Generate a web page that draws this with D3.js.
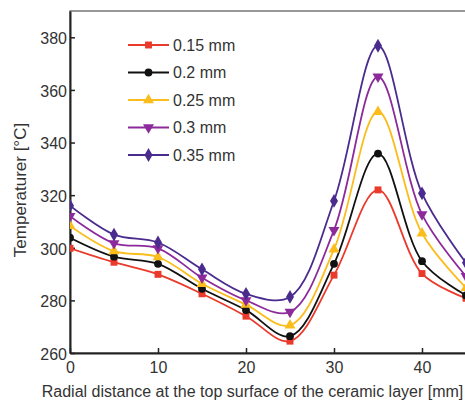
<!DOCTYPE html>
<html>
<head>
<meta charset="utf-8">
<script src="https://cdn.jsdelivr.net/npm/d3@7"></script>
<style>
  body { margin: 0; background: #fff; }
  text { font-family: "Liberation Sans", Arial, sans-serif; fill: #333; }
</style>
</head>
<body>
<div id="chart"></div>
<script>
// Data
const distances = [0, 5, 10, 15, 20, 25, 30, 35, 40, 45];
const seriesNames = ["0.15 mm", "0.2 mm", "0.25 mm", "0.3 mm", "0.35 mm"];
const t015 = [299.8, 294.5, 289.9, 282.5, 274.0, 264.5, 289.6, 322.0, 290.2, 280.8];
const t020 = [303.8, 296.6, 293.9, 284.4, 276.3, 266.4, 293.9, 335.8, 294.9, 281.9];
const t025 = [308.3, 298.7, 296.5, 286.3, 278.4, 270.5, 299.4, 351.7, 305.5, 284.8];
const t030 = [312.0, 301.7, 299.8, 288.6, 280.0, 275.6, 306.7, 365.0, 312.7, 289.2];
const t035 = [316.0, 305.0, 302.0, 291.8, 282.5, 281.3, 317.8, 376.8, 320.7, 294.3];
const xTicks = [0, 10, 20, 30, 40];
const yTicks = [260, 280, 300, 320, 340, 360, 380];

const allSeries = [t015, t020, t025, t030, t035];
const colors = ["#ea3a2c", "#111111", "#fbbd1c", "#8c2a9c", "#4a2b8e"];
const symbols = [d3.symbolSquare, d3.symbolCircle, d3.symbolTriangle, d3.symbolTriangle, d3.symbolDiamond];
const symSize = [48, 48, 52, 52, 55];
const symRot = [0, 0, 0, 180, 0];

const W = 465, H = 403;
const margin = { top: 11, right: -1, bottom: 50, left: 70 };
const width = W - margin.left - margin.right;
const height = H - margin.top - margin.bottom;

const svg = d3.select("#chart")
  .append("svg")
  .attr("width", W)
  .attr("height", H);

const g = svg.append("g")
  .attr("transform", `translate(${margin.left},${margin.top})`);

const x = d3.scaleLinear().domain([0, 45]).range([0, width]);
const y = d3.scaleLinear().domain([260, 390]).range([height, 0]);

g.append("clipPath").attr("id", "clip")
  .append("rect").attr("x", 0).attr("y", 0).attr("width", width).attr("height", height);

// Frame
g.append("rect")
  .attr("width", width)
  .attr("height", height)
  .attr("fill", "none")
  .attr("stroke", "#555")
  .attr("stroke-width", 1.2);

// Axes with inward ticks
const xAxis = g.append("g")
  .attr("transform", `translate(0,${height})`)
  .call(d3.axisBottom(x).tickValues(xTicks).tickSizeInner(-5).tickSizeOuter(0).tickPadding(9));
const yAxis = g.append("g")
  .call(d3.axisLeft(y).tickValues(yTicks).tickSizeInner(-5).tickSizeOuter(0).tickPadding(3));

[xAxis, yAxis].forEach(a => {
  a.select(".domain").attr("stroke", "#222").attr("stroke-width", 2);
  a.selectAll(".tick line").attr("stroke", "#222").attr("stroke-width", 1.5);
  a.selectAll(".tick text").style("font-size", "16px").attr("fill", "#333");
});
yAxis.selectAll(".tick text").attr("dy", "0.4em");

// Lines
const line = d3.line()
  .x((d, i) => x(distances[i]))
  .y(d => y(d))
  .curve(d3.curveCatmullRom.alpha(0.5));

const plot = g.append("g").attr("clip-path", "url(#clip)");

allSeries.forEach((s, k) => {
  plot.append("path")
    .datum(s)
    .attr("d", line)
    .attr("fill", "none")
    .attr("stroke", colors[k])
    .attr("stroke-width", 1.8);
});

allSeries.forEach((s, k) => {
  plot.selectAll(null)
    .data(s)
    .enter()
    .append("path")
    .attr("d", d3.symbol().type(symbols[k]).size(symSize[k]))
    .attr("transform", (d, i) => `translate(${x(distances[i])},${y(d)}) rotate(${symRot[k]})`)
    .attr("fill", colors[k]);
});

// Legend
const legend = svg.append("g").attr("transform", "translate(128,45)");
seriesNames.forEach((name, k) => {
  const row = legend.append("g").attr("transform", `translate(0,${k * 27.5})`);
  row.append("line")
    .attr("x1", 0).attr("x2", 41).attr("y1", 0).attr("y2", 0)
    .attr("stroke", colors[k]).attr("stroke-width", 1.8);
  row.append("path")
    .attr("d", d3.symbol().type(symbols[k]).size(symSize[k]))
    .attr("transform", `translate(20.5,0) rotate(${symRot[k]})`)
    .attr("fill", colors[k]);
  row.append("text")
    .attr("x", 45).attr("y", 0).attr("dy", "0.36em")
    .style("font-size", "16px")
    .text(name);
});

// Axis titles
svg.append("text")
  .attr("x", 252.5).attr("y", 397)
  .attr("text-anchor", "middle")
  .style("font-size", "16px")
  .text("Radial distance at the top surface of the ceramic layer [mm]");

svg.append("text")
  .attr("transform", "translate(26,190) rotate(-90)")
  .attr("text-anchor", "middle")
  .style("font-size", "17px")
  .text("Temperaturer [°C]");
</script>
</body>
</html>
